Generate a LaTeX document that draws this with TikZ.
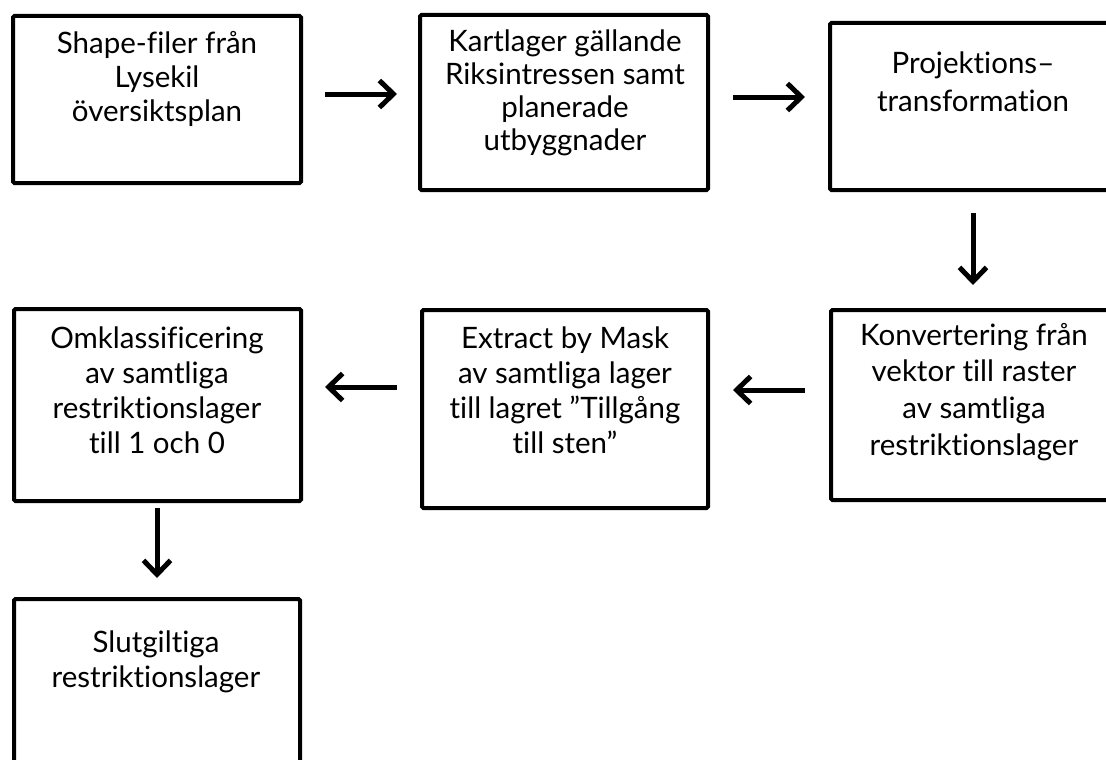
\documentclass[tikz,border=0pt]{standalone}
\usepackage{fontspec}
\setmainfont{Lato}[Ligatures={NoCommon}, RawFeature={-liga;-dlig}]
\usetikzlibrary{arrows.meta}
\begin{document}
\begin{tikzpicture}[x=1pt,y=-1pt,
  box/.style={draw, line width=4pt, rounded corners=1.5pt, inner sep=0pt, outer sep=0pt, anchor=north west},
  txt/.style={anchor=base, inner sep=0pt},
  flow/.style={line width=5pt, -{Straight Barb[length=14pt,width=27pt]}}]
\useasboundingbox (0,0) rectangle (1106,760);
\clip (0,0) rectangle (1106,760);
% boxes
\node[box, minimum width=288pt, minimum height=167pt] (b1) at (13,16) {};
\node[box, minimum width=288pt, minimum height=175pt] (b2) at (420,15) {};
\node[box, minimum width=282pt, minimum height=167pt] (b3) at (830,23) {};
\node[box, minimum width=282pt, minimum height=190pt] (b4) at (831,310) {};
\node[box, minimum width=286pt, minimum height=198pt] (b5) at (422,310) {};
\node[box, minimum width=287pt, minimum height=192pt] (b6) at (14,309) {};
\node[box, minimum width=286pt, minimum height=190pt] (b7) at (14,599) {};
% texts
\newcommand{\boxtext}[2]{\parbox[t]{290pt}{\centering\fontsize{29.5}{#1}\selectfont #2}}
\node[txt] (t1) at (157,54) {\boxtext{34}{Shape-filer från\\Lysekil\\översiktsplan}};
\node[txt] (t2) at (565,52) {\boxtext{33}{Kartlager gällande\\Riksintressen samt\\planerade\\utbyggnader}};
\node[txt] (t3) at (973,74) {\boxtext{38}{Projektions–\\transformation}};
\node[txt] (t4) at (974,345) {\boxtext{36.7}{Konvertering från\\vektor till raster\\av samtliga\\restriktionslager}};
\node[txt] (t5) at (565,348) {\boxtext{35}{Extract by Mask\\av samtliga lager\\till lagret ”Tillgång\\till sten”}};
\node[txt] (t6) at (157,348) {\boxtext{35}{Omklassificering\\av samtliga\\restriktionslager\\till 1 och 0}};
\node[txt] (t7) at (156,652) {\boxtext{35}{Slutgiltiga\\restriktionslager}};
% connectors
\draw[flow, shorten <=24pt, shorten >=23pt] (b1.east |- 0,94) -- (b2.west |- 0,94);
\draw[flow, shorten <=25pt, shorten >=25pt] (b2.east |- 0,97) -- (b3.west |- 0,97);
\draw[flow, shorten <=23pt, shorten >=25pt] (b3.south -| 973,0) -- (b4.north -| 973,0);
\draw[flow, shorten <=26pt, shorten >=25pt] (b4.west |- 0,390) -- (b5.east |- 0,390);
\draw[flow, shorten <=25pt, shorten >=24pt] (b5.west |- 0,387) -- (b6.east |- 0,387);
\draw[flow, shorten <=7pt, shorten >=21pt] (b6.south -| 157,0) -- (b7.north -| 157,0);
\end{tikzpicture}
\end{document}
